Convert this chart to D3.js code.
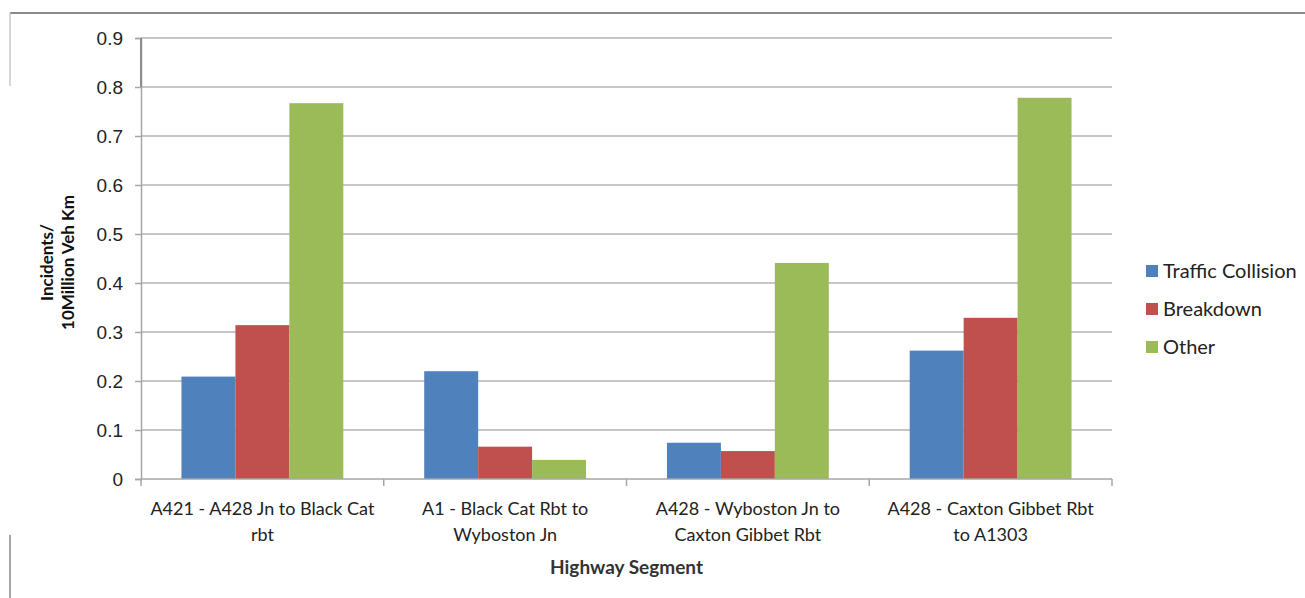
<!DOCTYPE html>
<html>
<head>
<meta charset="utf-8">
<script src="https://cdn.jsdelivr.net/npm/d3@7"></script>
<style>
  body { margin: 0; background: #fff; }
  svg { font-family: Lato, "Open Sans", sans-serif; }
  .grid line { stroke: #b3b3b3; stroke-width: 1.5; }
  .tick text { fill: #222; }
</style>
</head>
<body>
<svg id="chart"></svg>
<script>
var segments = [
  ["A421 - A428 Jn to Black Cat", "rbt"],
  ["A1 - Black Cat Rbt to", "Wyboston Jn"],
  ["A428 - Wyboston Jn to", "Caxton Gibbet Rbt"],
  ["A428 - Caxton Gibbet Rbt", "to A1303"]
];
var seriesNames = ["Traffic Collision", "Breakdown", "Other"];
var collision = [0.209, 0.220, 0.074, 0.262];
var breakdown = [0.314, 0.066, 0.057, 0.329];
var other = [0.767, 0.039, 0.441, 0.778];
var yTicks = [0, 0.1, 0.2, 0.3, 0.4, 0.5, 0.6, 0.7, 0.8, 0.9];
var colors = ["#4F81BD", "#C0504D", "#9BBB59"];

var width = 1305, height = 598;
var margin = {left: 141, right: 193, top: 38, bottom: 119};
var innerW = width - margin.left - margin.right;
var innerH = height - margin.top - margin.bottom;

var svg = d3.select("#chart")
    .attr("width", width)
    .attr("height", height);

// outer chart border (partially visible in source)
svg.append("line")
    .attr("x1", 10).attr("x2", width).attr("y1", 13).attr("y2", 13)
    .attr("stroke", "#8a8a8a").attr("stroke-width", 2);
svg.append("line")
    .attr("x1", 10).attr("x2", 10).attr("y1", 13).attr("y2", 86)
    .attr("stroke", "#c8c8c8").attr("stroke-width", 1.5);
svg.append("line")
    .attr("x1", 10).attr("x2", 10).attr("y1", 535).attr("y2", height)
    .attr("stroke", "#8a8a8a").attr("stroke-width", 1.5);

var g = svg.append("g")
    .attr("transform", "translate(" + margin.left + "," + margin.top + ")");

var x0 = d3.scaleBand()
    .domain(d3.range(segments.length))
    .range([0, innerW])
    .paddingInner(0.3333)
    .paddingOuter(0.1667);

var x1 = d3.scaleBand()
    .domain(d3.range(seriesNames.length))
    .range([0, x0.bandwidth()]);

var y = d3.scaleLinear()
    .domain([0, 0.9])
    .range([innerH, 0]);

// gridlines
g.append("g")
    .attr("class", "grid")
  .selectAll("line")
    .data(yTicks.slice(1))
  .enter().append("line")
    .attr("x1", 0)
    .attr("x2", innerW)
    .attr("y1", function(d) { return y(d); })
    .attr("y2", function(d) { return y(d); })
    .attr("stroke", function(d) { return d === 0.9 ? "#8c8c8c" : null; });

// y axis
var yAxis = g.append("g")
    .call(d3.axisLeft(y).tickValues(yTicks).tickSize(6).tickPadding(12)
      .tickFormat(function(d) { return d === 0 ? "0" : d3.format(".1f")(d); }));
yAxis.select(".domain").attr("stroke", "#a6a6a6").attr("stroke-width", 1.5);
yAxis.selectAll(".tick line").attr("stroke", "#a6a6a6").attr("stroke-width", 1.5);
yAxis.selectAll(".tick text").style("font-size", "19px");
g.append("line")
    .attr("x1", 0).attr("x2", 0).attr("y1", y(0.9)).attr("y2", y(0.8))
    .attr("stroke", "#8c8c8c").attr("stroke-width", 2);

// bars
var data = [collision, breakdown, other];
var groups = g.selectAll(".seg")
    .data(segments)
  .enter().append("g")
    .attr("class", "seg")
    .attr("transform", function(d, i) { return "translate(" + x0(i) + ",0)"; });

groups.selectAll("rect")
    .data(function(d, i) { return data.map(function(s, k) { return {k: k, v: s[i]}; }); })
  .enter().append("rect")
    .attr("x", function(d) { return x1(d.k); })
    .attr("y", function(d) { return y(d.v); })
    .attr("width", x1.bandwidth())
    .attr("height", function(d) { return innerH - y(d.v); })
    .attr("fill", function(d) { return colors[d.k]; });

// x axis
g.append("line")
    .attr("x1", 0).attr("x2", innerW).attr("y1", innerH).attr("y2", innerH)
    .attr("stroke", "#a6a6a6").attr("stroke-width", 1.5);
g.selectAll(".xtick")
    .data(d3.range(segments.length + 1))
  .enter().append("line")
    .attr("x1", function(d) { return d * innerW / segments.length; })
    .attr("x2", function(d) { return d * innerW / segments.length; })
    .attr("y1", innerH).attr("y2", innerH + 7)
    .attr("stroke", "#a6a6a6").attr("stroke-width", 1.5);

var xl = g.selectAll(".xlab")
    .data(segments)
  .enter().append("text")
    .attr("text-anchor", "middle")
    .style("font-size", "18px")
    .attr("fill", "#222")
    .attr("transform", function(d, i) { return "translate(" + (x0(i) + x0.bandwidth() / 2) + "," + (innerH + 36) + ")"; });
xl.selectAll("tspan")
    .data(function(d) { return d; })
  .enter().append("tspan")
    .attr("x", 0)
    .attr("y", function(d, i) { return i * 26; })
    .text(function(d) { return d; });

// axis titles
g.append("text")
    .attr("x", innerW / 2)
    .attr("y", innerH + 95)
    .attr("text-anchor", "middle")
    .style("font-size", "19px")
    .style("font-weight", "bold")
    .attr("fill", "#333")
    .text("Highway Segment");

var yt = svg.append("text")
    .attr("transform", "translate(53," + (margin.top + innerH / 2 + 4) + ") rotate(-90)")
    .attr("text-anchor", "middle")
    .style("font-size", "17px")
    .style("font-weight", "bold")
    .attr("fill", "#111");
yt.append("tspan").attr("x", 0).attr("y", 0).text("Incidents/");
yt.append("tspan").attr("x", 0).attr("y", 21).text("10Million Veh Km");

// legend
var legend = svg.append("g")
    .attr("transform", "translate(1146,263)");
var li = legend.selectAll("g")
    .data(seriesNames)
  .enter().append("g")
    .attr("transform", function(d, i) { return "translate(0," + i * 38 + ")"; });
li.append("rect")
    .attr("width", 12).attr("height", 12)
    .attr("y", 2)
    .attr("fill", function(d, i) { return colors[i]; });
li.append("text")
    .attr("x", 17)
    .attr("y", 15)
    .style("font-size", "20px")
    .attr("fill", "#222")
    .text(function(d) { return d; });
</script>
</body>
</html>
